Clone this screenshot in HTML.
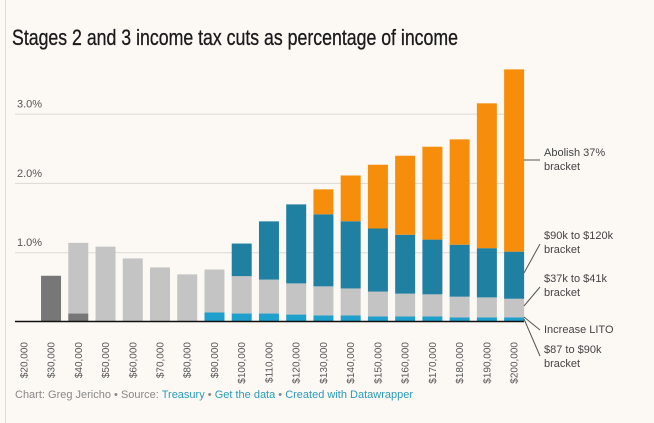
<!DOCTYPE html>
<html><head><meta charset="utf-8"><style>
html,body{margin:0;padding:0;background:#fcf9f5;}
svg{display:block;font-family:"Liberation Sans",sans-serif;}
</style></head><body>
<svg width="654" height="423" viewBox="0 0 654 423">
<rect x="0" y="0" width="654" height="423" fill="#fcf9f5"/>
<line x1="5.5" y1="0" x2="5.5" y2="423" stroke="#e2ddd8"/>
<text x="12" y="45" font-size="22" fill="#1a1a1a" stroke="#1a1a1a" stroke-width="0.3" textLength="446" lengthAdjust="spacingAndGlyphs">Stages 2 and 3 income tax cuts as percentage of income</text>
<g id="grid"></g>
<g id="bars"></g>
<g id="xlabels"></g>
<g id="annot" font-size="11" fill="#444">
<line x1="524" y1="160" x2="540" y2="160" stroke="#555"/>
<text x="544" y="156">Abolish 37%</text><text x="544" y="170">bracket</text>
<line x1="524" y1="273" x2="540" y2="244" stroke="#555"/>
<text x="544" y="239">$90k to $120k</text><text x="544" y="253">bracket</text>
<line x1="524" y1="306" x2="540" y2="287" stroke="#555"/>
<text x="544" y="282">$37k to $41k</text><text x="544" y="296">bracket</text>
<line x1="524" y1="317" x2="540" y2="330" stroke="#555"/>
<text x="544" y="333">Increase LITO</text>
<line x1="524" y1="319" x2="540" y2="356" stroke="#555"/>
<text x="544" y="353">$87 to $90k</text><text x="544" y="367">bracket</text>
</g>
<text x="15" y="398" font-size="11" fill="#888">Chart: Greg Jericho • Source: <tspan fill="#2a9ab8">Treasury</tspan> • <tspan fill="#2a9ab8">Get the data</tspan> • <tspan fill="#2a9ab8">Created with Datawrapper</tspan></text>
</svg>
<script>
const categories = ["$20,000","$30,000","$40,000","$50,000","$60,000","$70,000","$80,000","$90,000","$100,000","$110,000","$120,000","$130,000","$140,000","$150,000","$160,000","$170,000","$180,000","$190,000","$200,000"];
const lito = [0,0.66,0.115,0,0,0,0,0,0,0,0,0,0,0,0,0,0,0,0];
const bracket87to90 = [0,0,0,0,0,0,0,0.13,0.115,0.115,0.10,0.087,0.087,0.072,0.072,0.072,0.058,0.058,0.058];
const bracket37to41 = [0,0,1.02,1.08,0.91,0.78,0.68,0.62,0.54,0.49,0.45,0.42,0.39,0.36,0.33,0.32,0.30,0.29,0.27];
const bracket90to120 = [0,0,0,0,0,0,0,0,0.47,0.84,1.14,1.04,0.97,0.91,0.85,0.79,0.75,0.71,0.68];
const abolish37 = [0,0,0,0,0,0,0,0,0,0,0,0.36,0.66,0.92,1.14,1.34,1.52,2.09,2.63];
const yTicks = [1,2,3];
const yTickLabels = ["1.0%","2.0%","3.0%"];

const NS = "http://www.w3.org/2000/svg";
const y = v => 321.5 - v * 69.3;
const xc = i => 23.8 + i * 27.24;
const BW = 20;
function mk(tag, attrs, parent){const e=document.createElementNS(NS,tag);for(const k in attrs)e.setAttribute(k,attrs[k]);parent.appendChild(e);return e;}
const grid = document.getElementById('grid');
yTicks.forEach((t,i)=>{
  const l = mk('line',{x1:15,x2:524,y1:y(t)+0.5,y2:y(t)+0.5,stroke:'#dcd9d5'},grid);
  
  
  const tx = mk('text',{x:17,y:y(t)-6,'font-size':11,fill:'#555'},grid);
  tx.textContent = yTickLabels[i];
  
  
});
const bars = document.getElementById('bars');
const series = [
  {d:lito,c:'#777777',n:'lito'},
  {d:bracket87to90,c:'#1f9fcc',n:'87k-90k'},
  {d:bracket37to41,c:'#c4c4c4',n:'37k-41k'},
  {d:bracket90to120,c:'#1f80a2',n:'90k-120k'},
  {d:abolish37,c:'#f68d0b',n:'abolish-37'}
];
categories.forEach((c,i)=>{
  let base = 0;
  series.forEach(s=>{
    const v = s.d[i];
    if(v>0){
      const r = mk('rect',{x:xc(i)-BW/2,y:y(base+v),width:BW,height:y(base)-y(base+v),fill:s.c},bars);
      
      
    }
    base += v;
  });
});
const ax = mk('line',{x1:15,x2:524,y1:321.5,y2:321.5,stroke:'#111','stroke-width':1.5},bars);


const xl = document.getElementById('xlabels');
categories.forEach((c,i)=>{
  const t = mk('text',{transform:`translate(${xc(i)+3.5},342) rotate(-90)`,'text-anchor':'end','font-size':10,fill:'#555'},xl);
  t.textContent = c;
  
  
});
</script>
</body></html>
